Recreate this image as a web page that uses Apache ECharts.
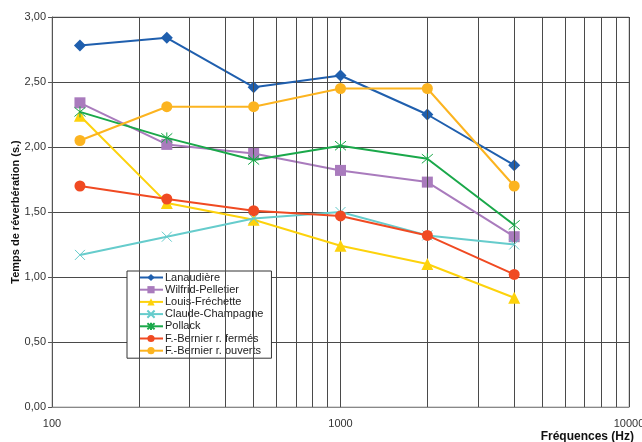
<!DOCTYPE html>
<html>
<head>
<meta charset="utf-8">
<script src="https://cdn.jsdelivr.net/npm/echarts@6/dist/echarts.min.js"></script>
<style>
  html, body { margin: 0; padding: 0; background: #fff; }
  #chart { width: 642px; height: 442px; }
</style>
</head>
<body>
<div id="chart"></div>
<script>
// Octave-band centre frequencies (Hz)
const frequencies = [125, 250, 500, 1000, 2000, 4000];

// Reverberation time per hall (s)
const lanaudiere   = [2.78, 2.84, 2.46, 2.55, 2.25, 1.86];
const wilfrid      = [2.34, 2.02, 1.95, 1.82, 1.73, 1.31];
const louis        = [2.24, 1.57, 1.44, 1.24, 1.10, 0.84];
const claude       = [1.17, 1.31, 1.45, 1.50, 1.32, 1.25];
const pollack      = [2.27, 2.07, 1.90, 2.01, 1.91, 1.40];
const bernierFerme = [1.70, 1.60, 1.51, 1.47, 1.32, 1.02];
const bernierOuv   = [2.05, 2.31, 2.31, 2.45, 2.45, 1.70];

const seriesNames = [
  'Lanaudière', 'Wilfrid-Pelletier', 'Louis-Fréchette', 'Claude-Champagne',
  'Pollack', 'F.-Bernier r. fermés', 'F.-Bernier r. ouverts'
];

// Log-scale minor gridlines (2..9 of each decade)
const minorGrid = [200, 300, 400, 500, 600, 700, 800, 900,
                   2000, 3000, 4000, 5000, 6000, 7000, 8000, 9000];

const FONT = '"Liberation Sans", Arial, sans-serif';
const crossPath = 'path://M0,0L10,10M10,0L0,10';
const starPath = 'path://M0,0L10,10M10,0L0,10M5,-1L5,11';

const styles = [
  { color: '#1f5fae', symbol: 'diamond', size: 12 },
  { color: '#a97bbd', symbol: 'rect', size: 11 },
  { color: '#fdd20c', symbol: 'triangle', size: 12 },
  { color: '#66cccc', symbol: crossPath, size: 10 },
  { color: '#1aa84a', symbol: starPath, size: 11 },
  { color: '#f04a22', symbol: 'circle', size: 11 },
  { color: '#fcb420', symbol: 'circle', size: 11 }
];
const values = [lanaudiere, wilfrid, louis, claude, pollack, bernierFerme, bernierOuv];

const pairs = v => frequencies.map((f, i) => [f, v[i]]);

const series = values.map((v, k) => {
  const s = styles[k];
  const stroked = s.symbol.startsWith('path://');
  return {
    name: seriesNames[k],
    type: 'line',
    data: pairs(v),
    symbol: s.symbol,
    symbolSize: s.size,
    showAllSymbol: true,
    lineStyle: { color: s.color, width: 2 },
    itemStyle: stroked
      ? { color: s.color, borderColor: s.color, borderWidth: 1 }
      : { color: s.color, borderWidth: 0 },
    z: 3 + k
  };
});

// Minor vertical gridlines placed through the log x scale
series.unshift({
  name: 'grid',
  type: 'line',
  data: [],
  silent: true,
  z: 1,
  markLine: {
    silent: true,
    symbol: ['none', 'none'],
    label: { show: false },
    lineStyle: { color: '#4a4a4a', width: 1, type: 'solid' },
    emphasis: { disabled: true },
    data: minorGrid.map(x => ({ xAxis: x }))
  }
});

const chart = echarts.init(document.getElementById('chart'), null, { renderer: 'canvas' });
chart.setOption({
  animation: false,
  backgroundColor: '#fff',
  textStyle: { fontFamily: FONT },
  grid: {
    left: 52, right: 13, top: 17, bottom: 35,
    containLabel: false,
    outerBoundsMode: 'none',
    show: true, borderColor: '#b0b0b0', borderWidth: 1
  },
  legend: {
    data: seriesNames,
    orient: 'vertical',
    left: 127, top: 271,
    padding: [1, 8, 2, 11],
    itemWidth: 24, itemHeight: 9, itemGap: 1.2,
    borderColor: '#333', borderWidth: 1,
    backgroundColor: '#fff',
    textStyle: { fontFamily: FONT, fontSize: 11, color: '#222', lineHeight: 11, padding: [0, 0, 0, -3] }
  },
  xAxis: {
    type: 'log',
    logBase: 10,
    min: 100, max: 10000,
    name: 'Fréquences (Hz)',
    nameLocation: 'end',
    nameGap: 5,
    nameMoveOverlap: false,
    nameTextStyle: {
      fontFamily: FONT, fontWeight: 'bold', fontSize: 12, color: '#111',
      align: 'right', verticalAlign: 'top', padding: [24, 0, 0, 0]
    },
    axisLine: { show: true, lineStyle: { color: '#888', width: 1 } },
    axisTick: { show: false },
    axisLabel: { fontFamily: FONT, fontSize: 11, color: '#333', margin: 11, formatter: v => String(Math.round(v)) },
    splitLine: { show: true, lineStyle: { color: '#4a4a4a', width: 1 } }
  },
  yAxis: {
    type: 'value',
    min: 0, max: 3, interval: 0.5,
    name: 'Temps de réverbération (s.)',
    nameLocation: 'middle',
    nameGap: 31,
    nameMoveOverlap: false,
    nameTextStyle: { fontFamily: FONT, fontWeight: 'bold', fontSize: 11, color: '#111' },
    axisLine: { show: true, lineStyle: { color: '#555', width: 1 } },
    axisTick: { show: true, length: 4, lineStyle: { color: '#555' } },
    axisLabel: {
      fontFamily: FONT, fontSize: 11, color: '#333', margin: 6,
      formatter: v => v.toFixed(2).replace('.', ',')
    },
    splitLine: { show: true, lineStyle: { color: '#4a4a4a', width: 1 } }
  },
  series: series
});
</script>
</body>
</html>
